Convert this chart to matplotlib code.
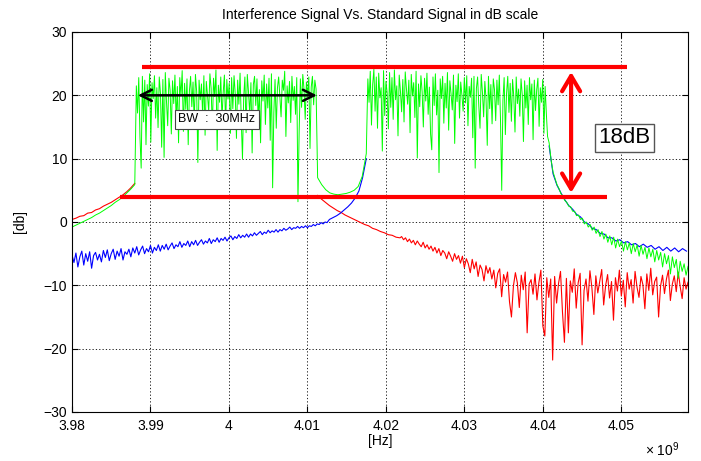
import numpy as np
import matplotlib
matplotlib.use("Agg")
import matplotlib.pyplot as plt

plt.rcParams['font.family'] = ['Liberation Sans', 'DejaVu Sans']
plt.rcParams['mathtext.default'] = 'regular'

# ---------------- data (frequency in units of 1e9 Hz, level in dB) ----------------
# frequency ranges of the measured segments
pre_range = (3.980, 3.988)
band1_range = (3.9882, 4.0111)
red_post_range = (4.0113, 4.0218)
red_floor_range = (4.0220, 4.0585)
blue_pre_range = (3.980, 4.0125)
blue_rise_range = (4.0128, 4.0175)
green_mid_range = (4.0113, 4.0175)
band2_range = (4.0177, 4.0406)
blue_tail_range = (4.0408, 4.0583)
green_tail_range = (4.0408, 4.0585)

red_pre = [0.4, 0.6, 0.9, 1.0, 1.4, 1.5, 1.9, 2.1, 2.5, 2.8, 3.1, 3.5, 3.9, 4.3, 4.8, 5.4, 6.1]
green_pre = [-0.8, -0.5, -0.2, 0.1, 0.4, 0.7, 1.1, 1.4, 1.8, 2.2, 2.6, 3.1, 3.5, 4.0, 4.6, 5.2, 5.9]

band1 = [
    21.5, 17.2, 22.8, 13.4, 8.5, 23.0, 15.8, 22.4, 12.2, 21.7, 18.3, 23.4, 12.6, 22.0, 19.5,
    23.1, 16.4, 21.2, 14.9, 22.9, 20.3, 11.8, 22.5, 10.2, 23.6, 19.0, 15.2, 22.7, 20.8, 13.9,
    22.3, 18.7, 23.2, 16.1, 21.4, 12.5, 22.8, 19.9, 23.9, 14.3, 21.9, 17.8, 22.6, 12.2, 20.7,
    23.0, 18.2, 22.1, 15.5, 23.3, 20.6, 9.4, 22.4, 19.3, 21.8, 16.7, 23.1, 13.7, 22.2, 20.0,
    17.4, 23.4, 21.1, 14.6, 22.7, 19.8, 24.0, 11.3, 21.6, 18.9, 22.9, 16.3, 20.4, 23.2, 15.1,
    22.5, 19.4, 21.9, 14.0, 22.8, 17.9, 23.1, 20.2, 13.2, 22.4, 18.6, 23.5, 15.9, 10.0, 19.7,
    22.9, 14.1, 23.3, 20.5, 17.1, 22.0, 10.9, 21.7, 23.0, 18.4, 22.6, 16.0, 20.9, 12.5, 22.3,
    19.1, 23.2, 15.4, 21.8, 18.0, 22.7, 12.9, 23.4, 5.4, 17.3, 22.5, 14.8, 21.2, 22.9, 19.6,
    16.6, 22.4, 20.8, 23.8, 13.5, 21.5, 18.8, 22.2, 15.7, 23.0, 19.2, 21.4, 17.0, 22.8, 3.2,
    14.4, 22.6, 18.1, 23.3, 21.0, 16.2, 22.1, 19.8, 22.9, 11.6, 21.3, 23.0, 18.5, 22.4, 21.0,
]

band2 = [
    22.6, 18.9, 23.8, 15.3, 21.7, 24.1, 17.5, 22.9, 14.8, 23.5, 19.6, 21.2, 11.2, 23.9, 16.8,
    22.2, 20.4, 14.7, 23.6, 18.1, 22.8, 16.2, 24.0, 19.3, 21.5, 13.6, 23.2, 20.7, 17.4, 22.5,
    15.8, 23.7, 21.0, 18.6, 22.4, 14.1, 23.3, 19.9, 22.0, 16.5, 23.8, 10.1, 21.8, 18.2, 23.1,
    20.6, 15.0, 22.7, 19.1, 23.5, 17.0, 21.3, 13.9, 11.4, 22.9, 18.4, 23.4, 16.9, 20.8, 7.8,
    22.6, 19.5, 23.0, 15.6, 21.9, 18.0, 23.6, 14.5, 22.3, 20.2, 17.7, 23.2, 12.4, 21.6, 19.0,
    23.4, 16.4, 22.1, 20.0, 17.5, 22.8, 18.8, 23.1, 15.2, 21.4, 19.7, 22.7, 13.3, 23.0, 8.5,
    21.1, 22.9, 18.3, 14.8, 23.3, 20.5, 16.6, 22.2, 19.4, 12.1, 23.0, 17.9, 21.7, 15.5, 22.6,
    20.9, 16.0, 22.4, 18.5, 23.2, 16.0, 5.0, 19.2, 22.8, 13.8, 20.3, 23.0, 17.3, 21.9, 15.9,
    22.5, 19.8, 14.2, 22.9, 18.7, 21.0, 16.7, 22.6, 20.1, 12.7, 22.3, 18.0, 21.6, 15.4, 22.8,
    19.3, 21.8, 13.0, 22.4, 17.6, 20.9, 22.7, 15.1, 21.2, 18.9, 22.5, 14.0, 21.4, 17.1, 13.5,
]

red_post = [4.2, 3.6, 3.1, 2.6, 2.2, 1.8, 1.5, 1.1, 0.8, 0.5, 0.2, -0.1, -0.4, -0.6, -1.0,
            -1.2, -1.5, -1.7, -2.0, -2.1, -2.4, -2.5]

red_floor = [
    -2.3, -2.8, -2.5, -3.1, -2.7, -3.3, -2.9, -3.6, -3.0, -3.5, -3.9, -3.2, -4.1, -3.6, -4.3,
    -3.8, -4.6, -4.0, -4.9, -4.2, -5.3, -4.5, -4.9, -5.8, -4.7, -5.4, -6.2, -5.0, -5.9, -5.3,
    -6.5, -5.4, -7.2, -5.8, -6.6, -8.0, -5.9, -7.4, -6.3, -8.6, -6.8, -7.5, -9.3, -6.9, -8.1,
    -7.2, -9.0, -7.6, -10.4, -8.1, -7.4, -11.8, -8.3, -9.5, -7.9, -12.6, -15.0, -10.1, -8.0, -9.6,
    -13.5, -8.4, -10.7, -7.9, -17.5, -9.8, -9.1, -11.4, -8.2, -12.3, -9.5, -7.6, -16.4, -18.0, -8.8,
    -11.9, -9.0, -21.8, -8.6, -12.8, -9.7, -7.8, -14.2, -19.0, -8.9, -17.5, -9.3, -11.1, -7.4, -13.6,
    -9.6, -8.1, -19.4, -10.8, -9.0, -12.5, -7.7, -10.4, -14.6, -8.5, -11.2, -9.3, -7.5, -13.1, -10.0,
    -8.3, -12.0, -9.4, -15.5, -8.8, -10.9, -7.6, -11.7, -9.2, -13.4, -8.0, -10.6, -9.1, -12.8, -7.8,
    -10.3, -11.9, -8.6, -9.9, -13.7, -8.2, -10.8, -7.3, -11.5, -9.4, -8.7, -15.0, -10.1, -8.4, -11.3,
    -9.0, -7.6, -12.4, -9.8, -8.5, -11.0, -7.9, -10.2, -12.1, -8.8, -10.6, -9.5,
]

blue_pre = [
    -5.2, -6.4, -4.9, -7.1, -5.5, -4.6, -6.8, -5.0, -6.2, -4.7, -7.3, -5.3, -4.8, -6.0, -5.1,
    -6.3, -4.5, -5.6, -4.4, -6.1, -5.0, -4.3, -5.9, -4.6, -5.4, -4.2, -6.0, -4.7, -5.1, -4.3,
    -5.5, -4.1, -4.9, -3.9, -5.2, -4.4, -3.8, -5.0, -4.2, -4.7, -3.7, -4.9, -4.0, -4.5, -3.6,
    -4.6, -3.7, -4.3, -3.5, -4.4, -3.8, -3.3, -4.2, -3.6, -3.9, -3.1, -4.0, -3.4, -3.7, -3.0,
    -3.9, -3.1, -3.6, -2.9, -3.7, -3.2, -2.8, -3.5, -3.0, -3.3, -2.6, -3.4, -2.8, -3.1, -2.5,
    -3.2, -2.6, -2.9, -2.4, -3.0, -2.5, -2.2, -2.8, -2.3, -2.6, -2.0, -2.5, -2.1, -2.4, -1.9,
    -2.4, -1.9, -2.2, -1.7, -2.1, -1.8, -1.5, -2.0, -1.6, -1.8, -1.3, -1.7, -1.4, -1.6, -1.2,
    -1.6, -1.2, -1.4, -1.0, -1.3, -1.1, -0.8, -1.2, -0.9, -1.0, -0.7, -1.0, -0.7, -0.9, -0.6,
    -0.9, -0.6, -0.7, -0.4, -0.6, -0.3, -0.4, -0.1, -0.3, 0.0, -0.1,
]
blue_rise = [0.4, 0.7, 1.0, 1.4, 1.9, 2.4, 3.0, 3.8, 4.9, 7.0, 10.0]
green_mid = [7.0, 5.9, 5.1, 4.6, 4.4, 4.3, 4.4, 4.5, 4.7, 5.0, 5.6, 7.2, 10.8]

blue_tail = [12.0, 7.6, 5.8, 4.6, 3.5, 2.6, 2.0, 1.2, 0.8, 0.0,
             -0.3, -1.0, -1.2, -1.8, -1.9, -2.5, -2.5, -3.0, -2.8, -3.3,
             -3.1, -3.6, -3.4, -3.9, -3.5, -4.0, -3.7, -4.3, -3.9, -4.5,
             -4.0, -4.6, -4.1, -4.7, -4.2, -4.6]
green_tail = [12.5, 9.8, 7.9, 6.9, 5.9, 5.3, 4.5, 4.1, 3.4, 3.1,
              2.5, 2.4, 1.7, 1.7, 1.0, 1.1, 0.4, 0.6, -0.3, 0.0,
              -0.8, -0.4, -1.3, -0.8, -1.8, -1.2, -2.3, -1.5, -2.7, -1.9,
              -3.2, -2.2, -3.6, -2.4, -4.1, -2.7, -3.9, -3.0, -4.6, -3.1,
              -4.4, -3.3, -5.0, -3.4, -4.7, -3.6, -5.4, -3.7, -5.1, -4.0,
              -5.8, -4.1, -5.5, -4.3, -6.3, -4.5, -6.0, -4.8, -7.1, -5.0,
              -6.6, -5.3, -8.2, -5.5, -7.2, -5.9, -8.9, -6.2, -7.8, -6.6, -8.4, -7.0]

# annotation levels
level_hi = 24.5
level_hi_span = (3.9889, 4.0507)
level_lo = 4.0
level_lo_span = (3.9861, 4.0482)
diff_arrow_x = 4.0436
diff_arrow_span = (4.6, 23.7)
bw_arrow_y = 20.0
bw_arrow_span = (3.9884, 4.0112)
bw_label = 'BW  :  30MHz'
bw_label_pos = (3.99845, 16.2)
diff_label = '18dB'
diff_label_pos = (4.05042, 13.3)

x_ticks = [3.98, 3.99, 4.00, 4.01, 4.02, 4.03, 4.04, 4.05]
x_ticklabels = ['3.98', '3.99', '4', '4.01', '4.02', '4.03', '4.04', '4.05']
y_ticks = [-30, -20, -10, 0, 10, 20, 30]
x_limits = (3.98, 4.0585)
y_limits = (-30, 30)


def seg(rng, vals):
    return np.linspace(rng[0], rng[1], len(vals)), np.asarray(vals, float)


def join(*segs):
    return (np.concatenate([s[0] for s in segs]), np.concatenate([s[1] for s in segs]))


# red and blue are drawn outside their bands (inside them the green trace lies on top)
red_parts = [seg(pre_range, red_pre), join(seg(red_post_range, red_post), seg(red_floor_range, red_floor))]
blue_parts = [join(seg(blue_pre_range, blue_pre), seg(blue_rise_range, blue_rise)),
              seg(blue_tail_range, blue_tail)]
green_x, green_y = join(seg(pre_range, green_pre), seg(band1_range, band1),
                        seg(green_mid_range, green_mid), seg(band2_range, band2),
                        seg(green_tail_range, green_tail))

# ---------------- figure ----------------
fig = plt.figure(figsize=(7.01, 4.61), dpi=100)
ax = fig.add_axes([0.1027, 0.1063, 0.8788, 0.8243])

for px, py in red_parts:
    ax.plot(px, py, color='#ff0000', lw=0.8)
for px, py in blue_parts:
    ax.plot(px, py, color='#0000ff', lw=0.8)
ax.plot(green_x, green_y, color='#00ff00', lw=0.7)

ax.plot(level_hi_span, [level_hi, level_hi], color='#ff0000', lw=3, solid_capstyle='butt')
ax.plot(level_lo_span, [level_lo, level_lo], color='#ff0000', lw=3, solid_capstyle='butt')

ax.annotate('', xy=(diff_arrow_x, diff_arrow_span[0]), xytext=(diff_arrow_x, diff_arrow_span[1]),
            arrowprops=dict(arrowstyle='<->,head_length=1.1,head_width=0.65', color='#ff0000',
                            lw=3, shrinkA=0, shrinkB=0))
ax.annotate('', xy=(bw_arrow_span[0], bw_arrow_y), xytext=(bw_arrow_span[1], bw_arrow_y),
            arrowprops=dict(arrowstyle='<->,head_length=0.8,head_width=0.4', color='black',
                            lw=1.8, shrinkA=0, shrinkB=0))

ax.text(*bw_label_pos, bw_label, ha='center', va='center', fontsize=9,
        bbox=dict(boxstyle='square,pad=0.3', fc='white', ec='#444444', lw=0.8))
ax.text(*diff_label_pos, diff_label, ha='center', va='center', fontsize=16,
        bbox=dict(boxstyle='square,pad=0.15', fc='white', ec='#555555', lw=1.0))

ax.set_xlim(*x_limits)
ax.set_ylim(*y_limits)
ax.set_xticks(x_ticks)
ax.set_xticklabels(x_ticklabels)
ax.set_yticks(y_ticks)
ax.tick_params(direction='in', length=4, width=0.8, labelsize=10, top=True, right=True)
ax.tick_params(axis='x', pad=5)
ax.grid(True, color='black', linestyle=(0, (1.5, 2.5)), lw=0.6)
for s in ax.spines.values():
    s.set_linewidth(0.8)

ax.set_title('Interference Signal Vs. Standard Signal in dB scale', fontsize=10, pad=9)
ax.set_xlabel('[Hz]', fontsize=10, labelpad=1)
ax.set_ylabel('[db]', fontsize=10, labelpad=12)
ax.text(0.93, -0.10, '\u00d7 10$^{9}$', transform=ax.transAxes, fontsize=10, ha='left', va='center')

fig.savefig('out.png', dpi=100)
